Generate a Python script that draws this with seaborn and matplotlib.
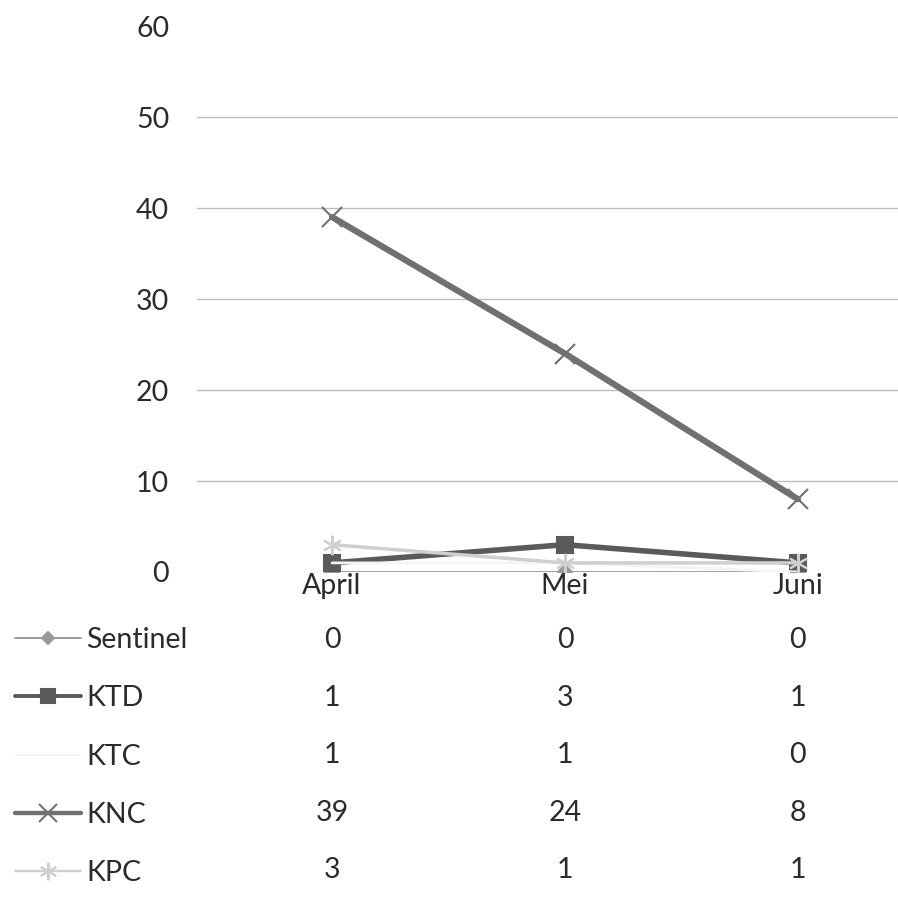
import numpy as np
import pandas as pd
import seaborn as sns
import matplotlib.pyplot as plt
from matplotlib.lines import Line2D

months = ['April', 'Mei', 'Juni']
series = ['Sentinel', 'KTD', 'KTC', 'KNC', 'KPC']
sentinel = [0, 0, 0]
ktd = [1, 3, 1]
ktc = [1, 1, 0]
knc = [39, 24, 8]
kpc = [3, 1, 1]
values = [sentinel, ktd, ktc, knc, kpc]

# line styles per series (excel-ish greys)
colors = ['#9a9a9a', '#5a5a5a', '#f4f4f4', '#707070', '#cfcfcf']
widths = [2.0, 4.0, 2.0, 4.5, 2.5]
markers = ['D', 's', '', 'x', (6, 2, 0)]
msizes = [7, 11, 0, 14, 14]

sns.set_theme(style='white')
plt.rcParams['font.family'] = ['Lato', 'DejaVu Sans']
txt = '#2b2b2b'
fs = 20.5

fig = plt.figure(figsize=(8.98, 9.21), dpi=100)
ax = fig.add_axes([197 / 898, (921 - 572) / 921, 701 / 898, 546 / 921])

df = pd.DataFrame({'month': np.tile(np.arange(len(months)), len(series)),
                   'series': np.repeat(series, len(months)),
                   'value': np.concatenate(values)})

handles = []
for i, s in enumerate(series):
    d = df[df['series'] == s]
    sns.lineplot(data=d, x='month', y='value', ax=ax, color=colors[i],
                 linewidth=widths[i], marker=markers[i] if markers[i] else None,
                 markersize=msizes[i], markeredgewidth=1.5,
                 markeredgecolor=colors[i], zorder=3 + i)
    handles.append(Line2D([], [], color=colors[i], linewidth=widths[i] * 0.7,
                          marker=markers[i] if markers[i] else None,
                          markersize=msizes[i] * 0.9, markeredgecolor=colors[i],
                          markeredgewidth=1.5))

ax.set_ylim(0, 60)
ax.set_xlim(-0.58, 2.43)
ax.set_yticks(range(0, 61, 10))
ax.set_xticks(range(len(months)))
ax.set_xticklabels(months)
ax.set_xlabel('')
ax.set_ylabel('')
ax.tick_params(axis='y', labelsize=fs, colors=txt, pad=20, length=0)
ax.tick_params(axis='x', labelsize=fs, colors=txt, pad=1, length=0)
ax.yaxis.grid(True, color='#bdbdbd', linewidth=1.0)
ax.xaxis.grid(False)
for g in [ax.get_ygridlines()[0], ax.get_ygridlines()[-1]]:
    g.set_visible(False)
for sp in ax.spines.values():
    sp.set_visible(False)

# data table below the plot
tab = fig.add_axes([197 / 898, 0, 701 / 898, (921 - 572) / 921])
tab.set_xlim(ax.get_xlim())
tab.set_ylim(4.887, -1.183)
tab.axis('off')
for r, s in enumerate(series):
    for c in range(len(months)):
        tab.text(c, r, str(values[r][c]), ha='center', va='center',
                 fontsize=fs, color=txt)

leg = fig.legend(handles, series, loc='upper left', bbox_to_anchor=(0.017, 0.319),
                 frameon=False, fontsize=fs, handlelength=2.3, handletextpad=0.2,
                 labelspacing=1.13, borderaxespad=0, borderpad=0)
for t in leg.get_texts():
    t.set_color(txt)

fig.savefig('out.png', dpi=100)
